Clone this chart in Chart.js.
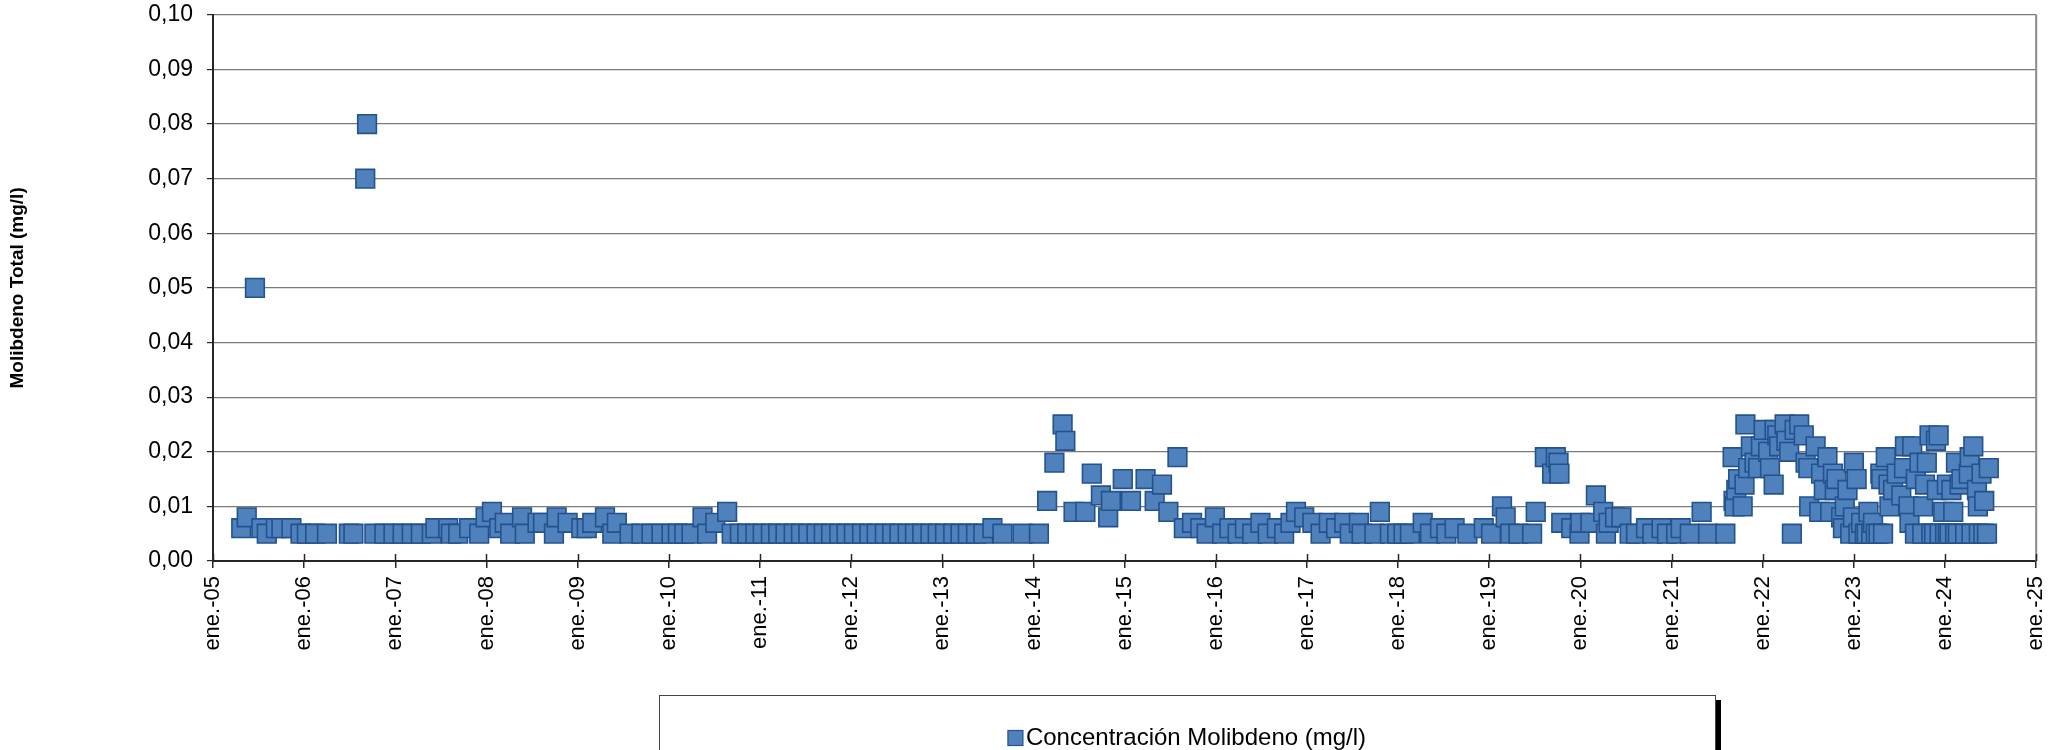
<!DOCTYPE html>
<html>
<head>
<meta charset="utf-8">
<script src="https://cdn.jsdelivr.net/npm/chart.js@4"></script>
<style>
html,body{margin:0;padding:0;background:#fff;}
#wrap{width:2051px;height:750px;position:relative;}
</style>
</head>
<body>
<div id="wrap"><canvas id="moChart"></canvas></div>
<script>
// sample time as decimal year
const sampleTimes = [
  2005.31,2005.37,2005.46,2005.53,2005.59,2005.69,2005.75,2005.86,2005.96,2006.03,
  2006.12,2006.25,2006.49,2006.54,2006.67,2006.69,2006.77,2006.88,2006.98,2007.08,
  2007.18,2007.28,2007.40,2007.44,2007.58,2007.61,2007.69,2007.81,2007.92,2007.99,
  2008.06,2008.14,2008.20,2008.26,2008.39,2008.42,2008.56,2008.62,2008.74,2008.77,
  2008.89,2009.04,2009.10,2009.16,2009.30,2009.38,2009.43,2009.57,2009.70,2009.81,
  2009.92,2010.03,2010.10,2010.17,2010.25,2010.37,2010.42,2010.51,2010.64,2010.69,
  2010.78,2010.86,2010.95,2011.03,2011.12,2011.20,2011.28,2011.37,2011.45,2011.53,
  2011.62,2011.70,2011.78,2011.87,2011.95,2012.03,2012.12,2012.20,2012.28,2012.37,
  2012.45,2012.53,2012.62,2012.70,2012.78,2012.87,2012.95,2013.03,2013.12,2013.20,
  2013.28,2013.37,2013.45,2013.55,2013.66,2013.88,2014.06,2014.15,2014.23,2014.32,
  2014.35,2014.44,2014.57,2014.64,2014.74,2014.82,2014.85,2014.98,2015.07,2015.23,
  2015.33,2015.41,2015.48,2015.58,2015.65,2015.74,2015.83,2015.90,2015.99,2016.07,
  2016.15,2016.24,2016.32,2016.40,2016.49,2016.57,2016.67,2016.75,2016.82,2016.88,
  2016.97,2017.06,2017.15,2017.24,2017.32,2017.41,2017.47,2017.57,2017.60,2017.74,
  2017.80,2017.91,2017.99,2018.06,2018.13,2018.27,2018.35,2018.46,2018.53,2018.62,
  2018.76,2018.94,2019.02,2019.14,2019.18,2019.23,2019.32,2019.47,2019.51,2019.61,
  2019.69,2019.73,2019.76,2019.77,2019.79,2019.90,2019.99,2020.00,2020.11,2020.17,
  2020.25,2020.28,2020.31,2020.38,2020.45,2020.54,2020.61,2020.72,2020.79,2020.89,
  2020.95,2021.05,2021.10,2021.20,2021.33,2021.40,2021.59,2021.67,2021.68,2021.69,
  2021.71,2021.73,2021.78,2021.80,2021.81,2021.84,2021.87,2021.91,2021.95,2021.98,
  2022.01,2022.06,2022.08,2022.12,2022.13,2022.16,2022.18,2022.24,2022.26,2022.29,
  2022.32,2022.35,2022.40,2022.45,2022.47,2022.50,2022.51,2022.58,2022.62,2022.64,
  2022.67,2022.71,2022.74,2022.77,2022.79,2022.81,2022.86,2022.88,2022.90,2022.93,
  2022.96,2022.99,2023.00,2023.03,2023.05,2023.08,2023.12,2023.14,2023.16,2023.19,
  2023.21,2023.24,2023.27,2023.29,2023.30,2023.32,2023.35,2023.38,2023.39,2023.43,
  2023.47,2023.52,2023.55,2023.56,2023.60,2023.61,2023.64,2023.67,2023.68,2023.72,
  2023.75,2023.76,2023.78,2023.80,2023.83,2023.85,2023.88,2023.90,2023.91,2023.93,
  2023.94,2023.98,2024.00,2024.02,2024.03,2024.05,2024.07,2024.09,2024.11,2024.12,
  2024.14,2024.16,2024.18,2024.22,2024.26,2024.27,2024.29,2024.31,2024.35,2024.36,
  2024.37,2024.40,2024.42,2024.43,2024.46,2024.48
];
// concentracion de molibdeno (mg/l)
const molybdenum = [
  0.006,0.008,0.050,0.006,0.005,0.006,0.006,0.006,0.005,0.005,
  0.005,0.005,0.005,0.005,0.070,0.080,0.005,0.005,0.005,0.005,
  0.005,0.005,0.005,0.006,0.006,0.005,0.005,0.006,0.005,0.008,
  0.009,0.006,0.007,0.005,0.008,0.005,0.007,0.007,0.005,0.008,
  0.007,0.006,0.006,0.007,0.008,0.005,0.007,0.005,0.005,0.005,
  0.005,0.005,0.005,0.005,0.005,0.008,0.005,0.007,0.009,0.005,
  0.005,0.005,0.005,0.005,0.005,0.005,0.005,0.005,0.005,0.005,
  0.005,0.005,0.005,0.005,0.005,0.005,0.005,0.005,0.005,0.005,
  0.005,0.005,0.005,0.005,0.005,0.005,0.005,0.005,0.005,0.005,
  0.005,0.005,0.005,0.006,0.005,0.005,0.005,0.011,0.018,0.025,
  0.022,0.009,0.009,0.016,0.012,0.008,0.011,0.015,0.011,0.015,
  0.011,0.014,0.009,0.019,0.006,0.007,0.006,0.005,0.008,0.005,
  0.006,0.005,0.006,0.005,0.007,0.005,0.006,0.005,0.007,0.009,
  0.008,0.007,0.005,0.007,0.006,0.007,0.005,0.007,0.005,0.005,
  0.009,0.005,0.005,0.005,0.005,0.007,0.005,0.006,0.005,0.006,
  0.005,0.006,0.005,0.010,0.008,0.005,0.005,0.005,0.009,0.019,
  0.016,0.019,0.018,0.016,0.007,0.006,0.005,0.007,0.007,0.012,
  0.009,0.005,0.007,0.008,0.008,0.005,0.005,0.006,0.005,0.006,
  0.005,0.005,0.006,0.005,0.009,0.005,0.005,0.019,0.011,0.010,
  0.013,0.015,0.010,0.014,0.025,0.017,0.021,0.018,0.017,0.021,
  0.024,0.020,0.017,0.014,0.024,0.023,0.021,0.025,0.022,0.020,
  0.005,0.024,0.025,0.023,0.018,0.017,0.010,0.021,0.009,0.016,
  0.013,0.019,0.009,0.016,0.013,0.015,0.008,0.006,0.010,0.013,
  0.005,0.008,0.018,0.015,0.005,0.007,0.005,0.005,0.009,0.005,
  0.007,0.005,0.005,0.016,0.015,0.005,0.019,0.014,0.010,0.013,
  0.016,0.012,0.017,0.021,0.010,0.007,0.021,0.005,0.015,0.018,
  0.005,0.010,0.014,0.018,0.023,0.005,0.005,0.022,0.013,0.023,
  0.005,0.009,0.005,0.014,0.005,0.005,0.013,0.009,0.005,0.018,
  0.005,0.014,0.015,0.005,0.016,0.019,0.005,0.021,0.013,0.010,
  0.005,0.016,0.005,0.011,0.005,0.017
];
const yearLabels = ['ene.-05','ene.-06','ene.-07','ene.-08','ene.-09','ene.-10','ene.-11',
  'ene.-12','ene.-13','ene.-14','ene.-15','ene.-16','ene.-17','ene.-18','ene.-19','ene.-20',
  'ene.-21','ene.-22','ene.-23','ene.-24','ene.-25'];
const yTicks = [0,0.01,0.02,0.03,0.04,0.05,0.06,0.07,0.08,0.09,0.10];

const FILL = '#4f81bd', EDGE = '#24528d';
const FONT = 'Liberation Sans, Arial, sans-serif';

// frame: grey right border, ticks crossing the x axis, boxed legend with shadow
const framePlugin = {
  id: 'frame',
  afterDraw(chart){
    const {ctx, chartArea:a, scales:{x}} = chart;
    ctx.save();
    ctx.strokeStyle = '#8a8a8a'; ctx.lineWidth = 2;
    ctx.beginPath(); ctx.moveTo(a.right, a.top); ctx.lineTo(a.right, a.bottom); ctx.stroke();
    ctx.strokeStyle = '#262626'; ctx.lineWidth = 1.5;
    x.ticks.forEach(t=>{
      const px = Math.round(x.getPixelForValue(t.value)) + 0.5;
      ctx.beginPath(); ctx.moveTo(px, a.bottom - 7); ctx.lineTo(px, a.bottom); ctx.stroke();
    });
    // legend box
    const bx = 659, by = 695, bw = 1056, bh = 70;
    ctx.fillStyle = '#000'; ctx.fillRect(bx + bw, by + 5, 6, bh);
    ctx.fillStyle = '#fff'; ctx.fillRect(bx, by, bw, bh);
    ctx.strokeStyle = '#444'; ctx.lineWidth = 1;
    ctx.strokeRect(bx + 0.5, by + 0.5, bw, bh);
    const ds = chart.data.datasets[0];
    ctx.font = '24px ' + FONT;
    const tw = ctx.measureText(ds.label).width;
    const box = 15, gap = 3;
    const sx = bx + bw / 2 - (box + gap + tw) / 2, cy = 738;
    ctx.fillStyle = FILL; ctx.fillRect(sx, cy - box / 2, box, box);
    ctx.strokeStyle = EDGE; ctx.lineWidth = 1.2; ctx.strokeRect(sx, cy - box / 2, box, box);
    ctx.fillStyle = '#000'; ctx.textBaseline = 'middle'; ctx.textAlign = 'left';
    ctx.fillText(ds.label, sx + box + gap, cy);
    ctx.restore();
  }
};

const points = sampleTimes.map((t,i)=>({x:t, y:molybdenum[i]}));

new Chart(document.getElementById('moChart'), {
  type: 'scatter',
  data: {datasets: [{
    label: 'Concentración Molibdeno (mg/l)',
    data: points,
    pointStyle: 'rect',
    pointRadius: 13.2,
    pointHoverRadius: 13.2,
    backgroundColor: FILL,
    borderColor: EDGE,
    borderWidth: 1.6
  }]},
  options: {
    responsive: true,
    maintainAspectRatio: false,
    animation: false,
    devicePixelRatio: 1,
    layout: {padding: {left: 0, top: 11, right: 8, bottom: 0}},
    plugins: {legend: {display: false}, tooltip: {enabled: false}},
    scales: {
      x: {
        type: 'linear', min: 2005, max: 2025,
        afterBuildTicks: s => { s.ticks = yearLabels.map((_,i)=>({value: 2005 + i})); },
        afterFit: s => { s.height = 189; s.paddingLeft = 0; s.paddingRight = 0; },
        ticks: {
          autoSkip: false, maxRotation: 90, minRotation: 90, padding: 8,
          color: '#000', font: {family: FONT, size: 22},
          callback: v => yearLabels[Math.round(v) - 2005]
        },
        grid: {drawOnChartArea: false, drawTicks: true, tickLength: 7, color: '#262626', lineWidth: 1.5},
        border: {display: true, color: '#262626', width: 2}
      },
      y: {
        min: 0, max: 0.1,
        afterBuildTicks: s => { s.ticks = yTicks.map(v=>({value: v})); },
        afterFit: s => { s.width = 213; s.paddingTop = 0; s.paddingBottom = 0; },
        ticks: {
          padding: 14, color: '#000', font: {family: FONT, size: 23},
          callback: v => v.toFixed(2).replace('.', ',')
        },
        grid: {color: '#7a7a7a', lineWidth: 1.2, tickLength: 6, tickColor: '#262626'},
        border: {display: true, color: '#262626', width: 2},
        title: {
          display: true, text: 'Molibdeno Total (mg/l)', color: '#000',
          font: {family: FONT, size: 19, weight: 'bold'}, padding: {top: 6, bottom: 0}
        }
      }
    }
  },
  plugins: [framePlugin]
});
</script>
</body>
</html>
